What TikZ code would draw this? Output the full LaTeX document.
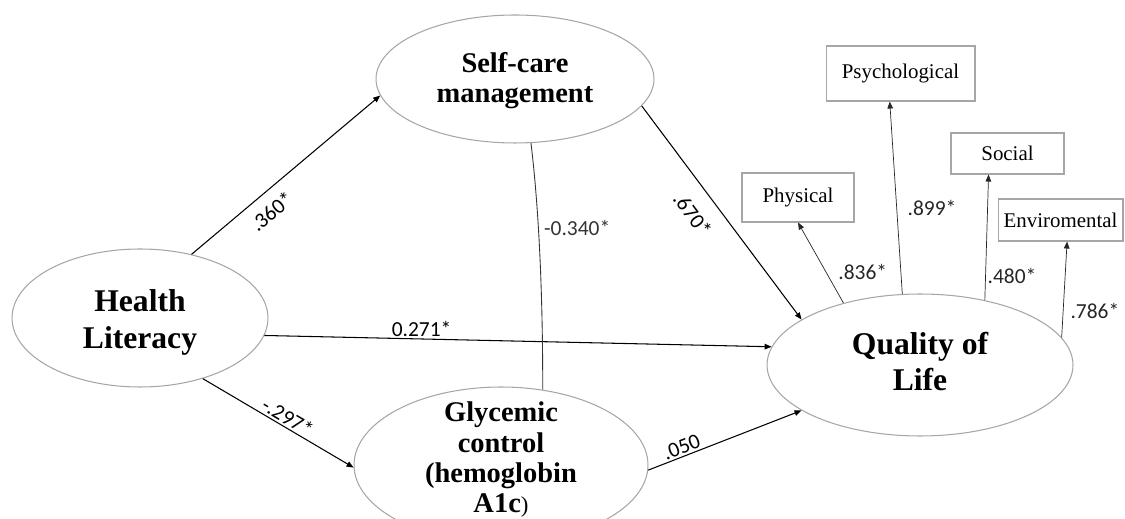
\documentclass[tikz,border=0pt]{standalone}
\usepackage{fontspec}
\setmainfont{Liberation Serif}
\newfontfamily\coeffont{Carlito}
\usetikzlibrary{arrows.meta,shapes.geometric}

\begin{document}
\begin{tikzpicture}
  [x=0.02cm, y=-0.02cm,
   latent/.style={ellipse, draw=gray!70, line width=0.6pt, inner sep=0pt},
   bigtext/.style={align=center, inner sep=0pt, font=\bfseries\fontsize{18}{21}\selectfont},
   midtext/.style={align=center, inner sep=0pt, font=\bfseries\fontsize{16.2}{17.2}\selectfont},
   indic/.style={rectangle, draw=gray!70, line width=0.6pt, inner sep=0pt, font=\fontsize{11.9}{14}\selectfont},
   effect/.style={-{Triangle[length=4pt,width=3.2pt]}, line width=0.6pt},
   loading/.style={-{Triangle[length=4pt,width=3.2pt]}, line width=0.4pt, black!85},
   coef/.style={font=\coeffont\fontsize{12.2}{14}\selectfont, inner sep=1pt}]

\useasboundingbox (0,0) rectangle (1125,519);
\clip (0,0) rectangle (1125,519);

%%%  nodes

% latent variables
\node [latent, minimum width=5.12cm, minimum height=2.76cm,
  label={[bigtext, yshift=-2.5pt]center:{Health\\Literacy}}] (hl) at (140,318) {};
\node [latent, minimum width=5.56cm, minimum height=2.56cm,
  label={[midtext, yshift=-1pt]center:{Self-care\\management}}] (sc) at (515,79) {};
\node [latent, minimum width=5.88cm, minimum height=3.12cm,
  label={[midtext, yshift=3pt]center:{Glycemic\\control\\(hemoglobin\\A1c{\mdseries\fontsize{13}{15}\selectfont)}}}] (gc) at (501,465) {};
\node [latent, minimum width=6.12cm, minimum height=2.84cm,
  label={[bigtext, yshift=2pt]center:{Quality of\\Life}}] (qol) at (920,365) {};

% indicators of quality of life
\node [indic, minimum width=2.98cm, minimum height=1.1cm] (psych) at (900.5,73.5) {Psychological};
\node [indic, minimum width=2.26cm, minimum height=0.82cm] (soc) at (1007.5,153.5) {Social};
\node [indic, minimum width=2.24cm, minimum height=0.98cm] (phys) at (798,197.5) {Physical};
\node [indic, minimum width=2.5cm, minimum height=0.84cm] (env) at (1060.5,220) {Enviromental};

%%%  edges

% paths
\draw [effect] (hl.51.6) -- node [coef, sloped, below=5pt, pos=0.36] {.360*} (sc.187.6);
\draw [effect] (hl.-8.8) -- node [coef, above, pos=0.31] {0.271*} (qol.173.2);
\draw [effect] (hl.-44.5) -- node [coef, sloped, above, pos=0.53] {-.297*} (gc.181.6);
\draw [effect] (sc.-12.5) -- node [coef, sloped, below=8pt, pos=0.44] {.670*} (qol.159.8);
\draw [effect] (gc.-2.3) -- node [coef, sloped, above, pos=0.24] {.050} (qol.201.5);

% covariance
\draw [line width=0.5pt, black!80] (sc.-76.8) .. controls +(6,50) and +(0,-120) .. node [coef, right=2pt, pos=0.45] {-0.340*} (gc.61.7);

% loadings
\draw [loading] (qol.141.4) -- node [coef, right=6pt, pos=0.39] {.836*} (phys.south);
\draw [loading] (qol.104.6) -- node [coef, right=5pt, pos=0.445] {.899*} (psych.249);
\draw [loading] (qol.45) -- node [coef, right=0pt, pos=0.19] {.480*} (soc.228);
\draw [loading] (qol.11) -- node [coef, right=3pt, pos=0.28] {.786*} (env.287);

\end{tikzpicture}
\end{document}
